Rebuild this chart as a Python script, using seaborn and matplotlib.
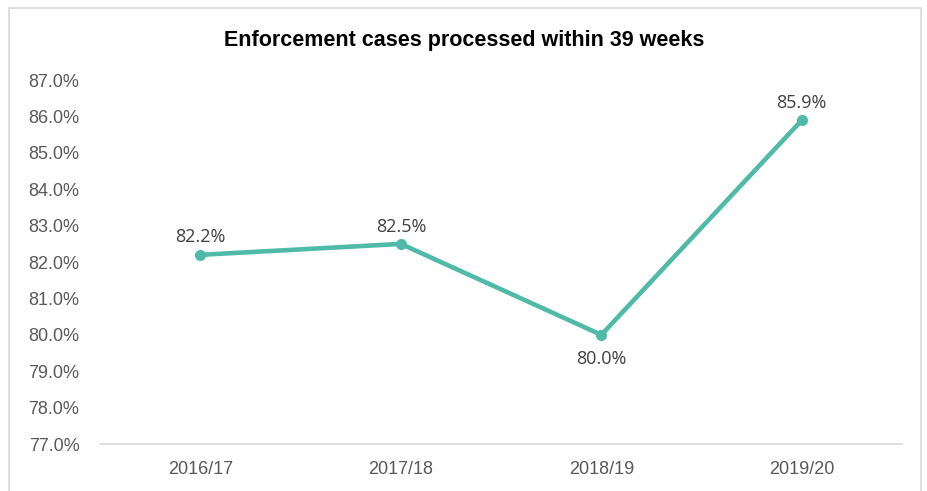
import seaborn as sns
import matplotlib.pyplot as plt
from matplotlib.patches import Rectangle
import pandas as pd

years = ['2016/17', '2017/18', '2018/19', '2019/20']
pct = [82.2, 82.5, 80.0, 85.9]
label_pos = ['above', 'above', 'below', 'above']

teal = '#4fbaa8'
grey = '#595959'

sns.set_style('white')
plt.rcParams['font.family'] = ['Liberation Sans', 'DejaVu Sans']

df = pd.DataFrame({'year': years, 'pct': pct})

fig = plt.figure(figsize=(9.28, 4.91), dpi=100)
ax = fig.add_axes([0.108, 0.0957, 0.864, 0.741])

sns.lineplot(data=df, x='year', y='pct', ax=ax, color=teal, linewidth=3.3,
             marker='o', markersize=8, markeredgewidth=0, sort=False)

for i, (v, pos) in enumerate(zip(pct, label_pos)):
    off = 6 if pos == 'above' else -11
    va = 'bottom' if pos == 'above' else 'top'
    ax.annotate(f'{v:.1f}%', (i, v), xytext=(0, off), textcoords='offset points',
                ha='center', va=va, fontsize=13, color='#404040', family=['Open Sans', 'DejaVu Sans'])

ax.set_xlim(-0.5, 3.5)
ax.set_ylim(77, 87)
ax.set_yticks(range(77, 88))
ax.set_yticklabels([f'{t:.1f}%' for t in range(77, 88)])
ax.tick_params(axis='both', length=0, labelsize=13, labelcolor=grey)
ax.tick_params(axis='y', pad=15)
ax.tick_params(axis='x', pad=12)
ax.set_xlabel('')
ax.set_ylabel('')
for s in ['top', 'right', 'left']:
    ax.spines[s].set_visible(False)
ax.spines['bottom'].set_color('#d9d9d9')
ax.spines['bottom'].set_linewidth(1.2)

fig.text(0.5, 0.918, 'Enforcement cases processed within 39 weeks', ha='center', va='center',
         fontsize=15.5, fontweight='bold', color='black')

# light border round the chart area
fig.patches.append(Rectangle((9 / 928, -0.05), 912 / 928, 1.05 - 8 / 491, transform=fig.transFigure,
                             fill=False, edgecolor='#d9d9d9', linewidth=1.2))

fig.savefig('out.png', dpi=100)
